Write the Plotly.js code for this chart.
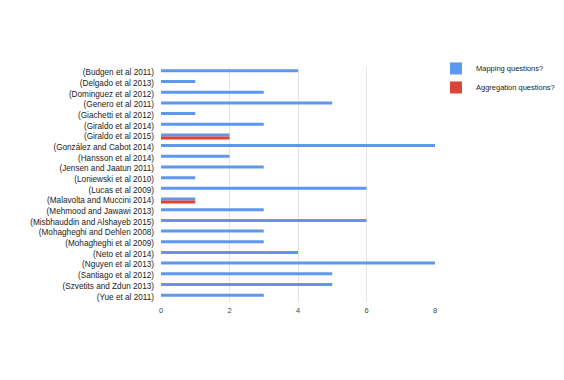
<!DOCTYPE html>
<html>
<head>
<meta charset="utf-8">
<script src="https://cdn.plot.ly/plotly-3.0.1.min.js"></script>
<style>
  html, body { margin: 0; padding: 0; background: #fff; }
  #chart { width: 564px; height: 380px; }
</style>
</head>
<body>
<div id="chart"></div>
<script>
// studies, top to bottom
var studies = [
  "(Budgen et al 2011)", "(Delgado et al 2013)", "(Dominguez et al 2012)", "(Genero et al 2011)",
  "(Giachetti et al 2012)", "(Giraldo et al 2014)", "(Giraldo et al 2015)", "(González and Cabot 2014)",
  "(Hansson et al 2014)", "(Jensen and Jaatun 2011)", "(Loniewski et al 2010)", "(Lucas et al 2009)",
  "(Malavolta and Muccini 2014)", "(Mehmood and Jawawi 2013)", "(Misbhauddin and Alshayeb 2015)",
  "(Mohagheghi and Dehlen 2008)", "(Mohagheghi et al 2009)", "(Neto et al 2014)", "(Nguyen et al 2013)",
  "(Santiago et al 2012)", "(Szvetits and Zdun 2013)", "(Yue et al 2011)"
];
var mapping     = [4, 1, 3, 5, 1, 3, 2, 8, 2, 3, 1, 6, 1, 3, 6, 3, 3, 4, 8, 5, 5, 3];
var aggregation = [0, 0, 0, 0, 0, 0, 2, 0, 0, 0, 0, 0, 1, 0, 0, 0, 0, 0, 0, 0, 0, 0];
var xTicks = [0, 2, 4, 6, 8];

var data = [
  {
    type: "bar", orientation: "h", name: "Mapping questions?",
    y: studies, x: mapping,
    marker: {color: "#5e97ef"}
  },
  {
    type: "bar", orientation: "h", name: "Aggregation questions?",
    y: studies, x: aggregation,
    marker: {color: "#dc4437"}
  }
];

var layout = {
  width: 564, height: 380,
  margin: {l: 161, r: 129, t: 67, b: 78},
  paper_bgcolor: "#fff", plot_bgcolor: "#fff",
  font: {family: "Liberation Sans, Arial, sans-serif", size: 8.2, color: "#222"},
  barmode: "group",
  bargap: 0.44,
  bargroupgap: 0,
  xaxis: {
    range: [0, 8], tickvals: xTicks,
    showgrid: true, gridcolor: "#e4e4e4", gridwidth: 1,
    zeroline: false, showline: false,
    ticks: "", tickfont: {color: "#444", size: 7.5}, ticklabelstandoff: 2
  },
  yaxis: {
    autorange: "reversed", type: "category",
    showgrid: false, zeroline: false, showline: false,
    ticks: "", ticklabelstandoff: 6
  },
  legend: {
    xref: "container", yref: "container",
    x: 0.773, y: 0.858, xanchor: "left", yanchor: "top",
    font: {size: 7.5, color: "#222"},
    itemwidth: 30, tracegroupgap: 0
  },
  showlegend: true
};

Plotly.newPlot("chart", data, layout, {displayModeBar: false, staticPlot: true});
</script>
</body>
</html>
